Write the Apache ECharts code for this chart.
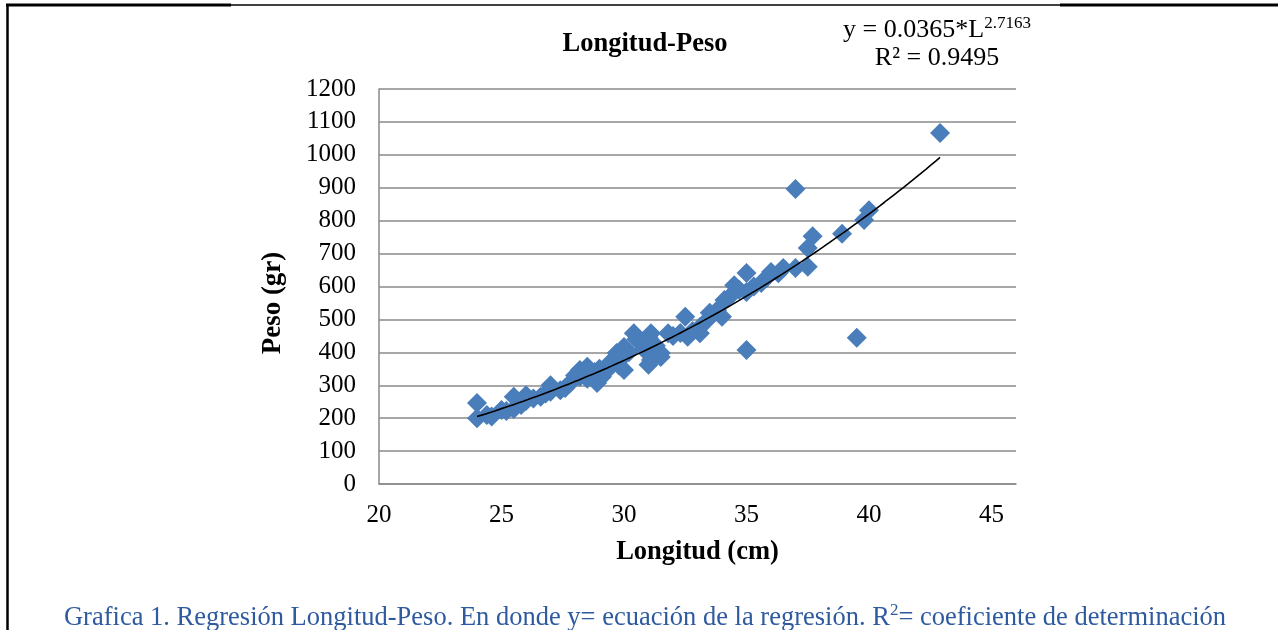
<!DOCTYPE html>
<html>
<head>
<meta charset="utf-8">
<script src="https://cdn.jsdelivr.net/npm/echarts@6/dist/echarts.min.js"></script>
<style>
html,body{margin:0;padding:0;background:#fff;}
#chart{width:1278px;height:630px;}
</style>
</head>
<body>
<div id="chart"></div>
<script>
// Longitud (cm)
var longitud = [24,24,24.4,24.6,25,25.2,25.5,25.5,25.8,26,26,26.3,26.6,26.8,27,27,27.4,27.6,27.8,28,28.2,28.2,28.5,28.5,28.8,28.9,29,29.1,29.3,29.4,29.6,29.7,29.8,30,30,30,30.2,30.4,30.5,30.7,30.8,31,31,31.1,31.1,31.3,31.5,31.5,31.8,32,32.3,32.5,32.6,32.8,33.1,33.1,33.4,33.5,33.8,34,34.1,34.3,34.5,34.7,35,35,35,35.3,35.6,35.8,36,36.3,36.5,37,37,37.5,37.5,37.7,38.9,39.5,39.8,40,42.9];
// Peso (gr)
var peso = [246,200,210,205,225,222,265,228,240,270,252,260,265,275,300,280,285,292,307,330,326,346,356,320,340,307,350,326,345,367,380,398,360,416,346,390,400,458,440,428,410,362,445,458,377,420,386,398,458,450,459,508,447,465,458,477,498,520,528,508,559,568,604,590,641,583,407,600,611,625,644,640,656,656,896,660,717,753,760,444,802,832,1066];
var yTicks = [0,100,200,300,400,500,600,700,800,900,1000,1100,1200];
var xTicks = [20,25,30,35,40,45];
// Regression shown on the chart: y = a * L^b
var coefA = 0.0365;
var coefB = 2.7163;
var chartTitle = 'Longitud-Peso';
var caption = 'Grafica 1. Regresión Longitud-Peso. En donde y= ecuación de la regresión. R';

var points = longitud.map(function(x,i){return [x, peso[i]];});
var xMin = Math.min.apply(null, longitud), xMax = Math.max.apply(null, longitud);
var trend = [];
for (var k = 0; k <= 100; k++) {
  var L = xMin + (xMax - xMin) * k / 100;
  trend.push([L, coefA * Math.pow(L, coefB)]);
}

var FONT = '"Liberation Serif","Times New Roman",serif';
var grid = '#8a8a8a';
var capColor = '#2e5aa0';
var chart = echarts.init(document.getElementById('chart'));
chart.setOption({
  animation: false,
  backgroundColor: '#fff',
  grid: {left: 379, right: 262, top: 89, bottom: 146},
  xAxis: {
    type: 'value', min: 20, max: 46, interval: 5,
    axisLine: {show: true, lineStyle: {color: grid, width: 1.5}},
    axisTick: {show: false},
    splitLine: {show: false},
    axisLabel: {showMaxLabel: false, fontFamily: FONT, fontSize: 25, color: '#000', margin: 19,
      formatter: function(v){ return xTicks.indexOf(v) >= 0 ? String(v) : ''; }},
    name: 'Longitud (cm)', nameLocation: 'middle', nameGap: 55,
    nameTextStyle: {fontFamily: FONT, fontSize: 26.5, fontWeight: 'bold', color: '#000'}
  },
  yAxis: {
    type: 'value', min: 0, max: 1200, interval: 100,
    axisLine: {show: true, lineStyle: {color: grid, width: 1.5}},
    axisTick: {show: false},
    splitLine: {show: true, lineStyle: {color: grid, width: 1.5}},
    axisLabel: {fontFamily: FONT, fontSize: 25, color: '#000', margin: 23,
      formatter: function(v){ return yTicks.indexOf(v) >= 0 ? String(v) : ''; }}
  },
  series: [
    {
      type: 'scatter', data: points, symbol: 'diamond', symbolSize: 20,
      itemStyle: {color: '#4a7ebb', opacity: 1}, z: 2
    },
    {
      type: 'line', data: trend, showSymbol: false, smooth: false,
      lineStyle: {color: '#000', width: 1.6}, z: 3, silent: true
    }
  ],
  graphic: [
    {type: 'line', shape: {x1: 6, y1: 5, x2: 231, y2: 5}, style: {stroke: '#000', lineWidth: 3}},
    {type: 'line', shape: {x1: 231, y1: 5, x2: 1060, y2: 5}, style: {stroke: '#000', lineWidth: 1.5}},
    {type: 'line', shape: {x1: 1060, y1: 5, x2: 1278, y2: 5}, style: {stroke: '#000', lineWidth: 3}},
    {type: 'line', shape: {x1: 7.5, y1: 4, x2: 7.5, y2: 630}, style: {stroke: '#000', lineWidth: 2.5}},
    {type: 'text', x: 645, y: 44, style: {text: chartTitle, font: 'bold 26.5px ' + FONT, fill: '#000', align: 'center', verticalAlign: 'middle'}},
    {type: 'text', x: 937, y: 30, style: {
      text: '{n|y = ' + coefA + '*L}{s|' + coefB + '}',
      align: 'center', verticalAlign: 'middle', fill: '#000',
      rich: {
        n: {fontFamily: FONT, fontSize: 26, fill: '#000'},
        s: {fontFamily: FONT, fontSize: 17, fill: '#000', padding: [0,0,12,0]}
      }
    }},
    {type: 'text', x: 937, y: 58, style: {text: 'R² = 0.9495', font: '26px ' + FONT, fill: '#000', align: 'center', verticalAlign: 'middle'}},
    {type: 'text', x: 273, y: 303, rotation: Math.PI/2, style: {text: 'Peso (gr)', font: 'bold 27px ' + FONT, fill: '#000', align: 'center', verticalAlign: 'middle'}},
    {type: 'text', x: 645, y: 618, style: {
      text: '{n|' + caption + '}{s|2}{n|= coeficiente de determinación}',
      align: 'center', verticalAlign: 'middle', fill: capColor,
      rich: {
        n: {fontFamily: FONT, fontSize: 26.5, fill: capColor},
        s: {fontFamily: FONT, fontSize: 17, fill: capColor, padding: [0,0,14,0]}
      }
    }}
  ]
});
</script>
</body>
</html>
